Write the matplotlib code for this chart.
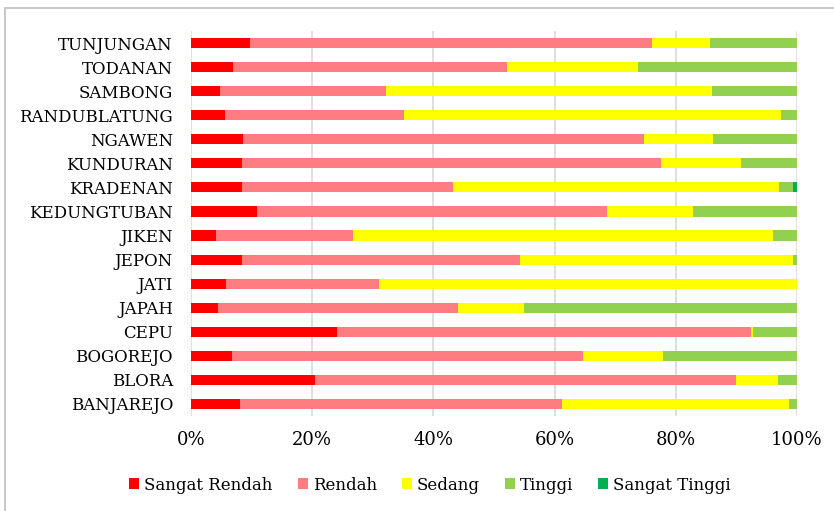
import matplotlib
matplotlib.use("Agg")
import matplotlib.pyplot as plt
from matplotlib.patches import Rectangle
import numpy as np

categories = ["TUNJUNGAN", "TODANAN", "SAMBONG", "RANDUBLATUNG", "NGAWEN", "KUNDURAN",
              "KRADENAN", "KEDUNGTUBAN", "JIKEN", "JEPON", "JATI", "JAPAH", "CEPU",
              "BOGOREJO", "BLORA", "BANJAREJO"]
series_names = ["Sangat Rendah", "Rendah", "Sedang", "Tinggi", "Sangat Tinggi"]
sangat_rendah = [9.7, 6.9, 4.8, 5.6, 8.5, 8.4, 8.4, 10.9, 4.1, 8.4, 5.8, 4.5, 24.1, 6.8, 20.5, 8.1]
rendah        = [66.4, 45.3, 27.3, 29.6, 66.3, 69.2, 34.8, 57.7, 22.6, 45.9, 25.2, 39.6, 68.3, 57.9, 69.4, 53.2]
sedang        = [9.6, 21.5, 53.9, 62.2, 11.4, 13.1, 53.8, 14.2, 69.3, 45.0, 69.0, 10.9, 0.4, 13.2, 7.0, 37.3]
tinggi        = [14.3, 26.3, 14.0, 2.6, 13.8, 9.3, 2.3, 17.2, 4.0, 0.7, 0.0, 45.0, 7.2, 22.1, 3.1, 1.4]
sangat_tinggi = [0.0, 0.0, 0.0, 0.0, 0.0, 0.0, 0.7, 0.0, 0.0, 0.0, 0.0, 0.0, 0.0, 0.0, 0.0, 0.0]
colors = ["#FF0000", "#FF7C80", "#FFFF00", "#92D050", "#00B050"]

plt.rcParams['font.family'] = ['DejaVu Serif']

fig = plt.figure(figsize=(8.34, 5.11), dpi=100)
ax = fig.add_axes([191/834, 1-416/511, (797-191)/834, (416-31)/511])

data = np.array([sangat_rendah, rendah, sedang, tinggi, sangat_tinggi])
totals = data.sum(axis=0)
pct = data / totals * 100
y = np.arange(len(categories))
left = np.zeros(len(categories))
for i, name in enumerate(series_names):
    ax.barh(y, pct[i], left=left, height=0.42, color=colors[i], label=name, zorder=3)
    left += pct[i]

ax.set_xlim(0, 100)
ax.set_ylim(len(categories) - 0.5, -0.5)
ax.set_yticks(y)
ax.set_yticklabels(categories, fontsize=12)
ax.set_xticks([0, 20, 40, 60, 80, 100])
ax.set_xticklabels(["0%", "20%", "40%", "60%", "80%", "100%"], fontsize=13)
ax.tick_params(axis='both', length=0)
ax.tick_params(axis='x', pad=11)
ax.tick_params(axis='y', pad=13)
ax.grid(axis='x', color='#d9d9d9', linewidth=1.2, zorder=0)
for s in ax.spines.values():
    s.set_visible(False)

fig.legend(loc='center', bbox_to_anchor=(430/834, 1-485/511), ncol=5, frameon=False,
           fontsize=12, handlelength=0.6, handleheight=0.6, handletextpad=0.3,
           columnspacing=1.5)

fig.patches.append(Rectangle((5/834, -0.05), 1.1, 1-8/511+0.05, transform=fig.transFigure,
                             fill=False, edgecolor='#bfbfbf', linewidth=1.2))

fig.savefig("out.png", dpi=100)
